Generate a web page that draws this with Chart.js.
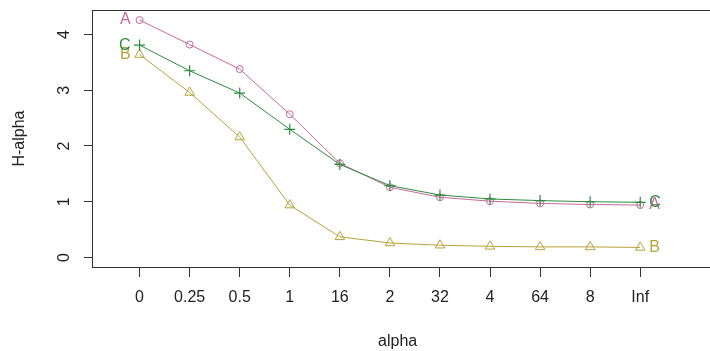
<!DOCTYPE html>
<html>
<head>
<meta charset="utf-8">
<script src="https://cdn.jsdelivr.net/npm/chart.js@4/dist/chart.umd.min.js"></script>
<style>
  html, body { margin: 0; padding: 0; background: #fff; overflow: hidden; }
  #wrap { width: 710px; height: 351px; }
</style>
</head>
<body>
<div id="wrap"><canvas id="c" width="710" height="351"></canvas></div>
<script>
// alpha values (categorical, in the order R sorted them as strings)
const categories = ['0', '0.25', '0.5', '1', '16', '2', '32', '4', '64', '8', 'Inf'];
const seriesA = [4.26, 3.82, 3.38, 2.57, 1.69, 1.26, 1.08, 1.01, 0.97, 0.95, 0.94];
const seriesB = [3.64, 2.96, 2.16, 0.94, 0.37, 0.26, 0.22, 0.20, 0.19, 0.19, 0.18];
const seriesC = [3.81, 3.35, 2.95, 2.30, 1.67, 1.29, 1.12, 1.05, 1.02, 1.00, 0.99];
const yTicks = [0, 1, 2, 3, 4];

const colA = '#c46a98';
const colB = '#b8a23a';
const colC = '#2e8b3e';
const FONT = "'Liberation Sans', Arial, sans-serif";

const toPoints = arr => arr.map((v, i) => ({ x: i, y: v }));

// R-style rotated y tick labels, box and end labels
const rStyle = {
  id: 'rStyle',
  afterDraw(chart) {
    const ctx = chart.ctx;
    const { left, top, right, bottom } = chart.chartArea;
    const y = chart.scales.y;
    ctx.save();
    // box runs past the right edge of the picture (cropped in the original)
    ctx.strokeStyle = '#333';
    ctx.lineWidth = 1;
    ctx.strokeRect(left + 0.5, top + 0.5, right - left + 20, bottom - top);

    ctx.fillStyle = '#222';
    ctx.font = '16px ' + FONT;
    ctx.textAlign = 'center';
    ctx.textBaseline = 'middle';
    yTicks.forEach(v => {
      ctx.save();
      ctx.translate(65, y.getPixelForValue(v));
      ctx.rotate(-Math.PI / 2);
      ctx.fillText(String(v), 0, 0);
      ctx.restore();
    });

    // series letters at both ends
    const names = ['A', 'B', 'C'];
    chart.data.datasets.forEach((ds, i) => {
      const pts = chart.getDatasetMeta(i).data;
      const first = pts[0], last = pts[pts.length - 1];
      ctx.fillStyle = ds.borderColor;
      ctx.textAlign = 'right';
      ctx.fillText(names[i], first.x - 9, first.y);
      ctx.textAlign = 'left';
      ctx.fillText(names[i], last.x + 9, last.y);
    });
    ctx.restore();
  }
};

new Chart(document.getElementById('c'), {
  type: 'line',
  data: {
    datasets: [
      {
        label: 'A', data: toPoints(seriesA), borderColor: colA, borderWidth: 1,
        pointStyle: 'circle', pointRadius: 3.5, pointBorderColor: colA,
        pointBackgroundColor: 'rgba(0,0,0,0)', pointBorderWidth: 1, order: 2
      },
      {
        label: 'B', data: toPoints(seriesB), borderColor: colB, borderWidth: 1,
        pointStyle: 'triangle', pointRadius: 5.5, pointBorderColor: colB,
        pointBackgroundColor: 'rgba(0,0,0,0)', pointBorderWidth: 1, order: 1
      },
      {
        label: 'C', data: toPoints(seriesC), borderColor: colC, borderWidth: 1,
        pointStyle: 'cross', pointRadius: 5.5, pointBorderColor: colC,
        pointBorderWidth: 1.2, order: 0
      }
    ]
  },
  options: {
    responsive: false,
    animation: false,
    devicePixelRatio: 1,
    layout: { padding: { top: 10, right: 0, left: 0, bottom: 0 } },
    plugins: { legend: { display: false }, tooltip: { enabled: false } },
    elements: { line: { tension: 0 } },
    scales: {
      x: {
        type: 'linear',
        min: -0.95,
        max: 11.26,
        afterBuildTicks: s => { s.ticks = categories.map((c, i) => ({ value: i })); },
        afterFit: s => { s.height = 84; },
        border: { display: false },
        grid: { drawOnChartArea: false, tickLength: 10, color: '#333' },
        ticks: {
          autoSkip: false, maxRotation: 0, minRotation: 0, padding: 11,
          color: '#222', font: { family: FONT, size: 16 },
          callback: v => categories[v]
        },
        title: {
          display: true, text: 'alpha', color: '#222',
          font: { family: FONT, size: 16 }, padding: { top: 4, bottom: 0 }
        }
      },
      y: {
        min: -0.171,
        max: 4.44,
        afterBuildTicks: s => { s.ticks = yTicks.map(v => ({ value: v })); },
        afterFit: s => { s.width = 92; },
        border: { display: false },
        grid: { drawOnChartArea: false, tickLength: 8, color: '#333' },
        ticks: { display: false },
        title: {
          display: true, text: 'H-alpha', color: '#222',
          font: { family: FONT, size: 16 }, padding: { top: 10, bottom: 0 }
        }
      }
    }
  },
  plugins: [rStyle]
});
</script>
</body>
</html>
